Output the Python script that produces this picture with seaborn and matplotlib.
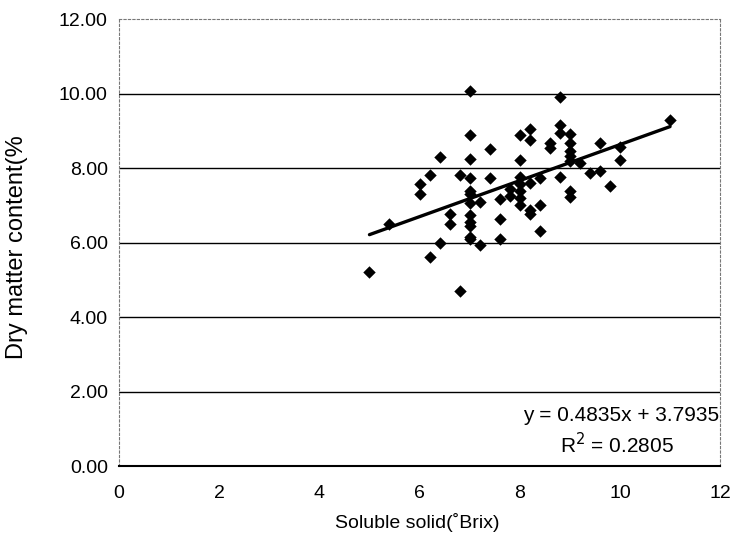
import numpy as np
import pandas as pd
import matplotlib
matplotlib.use("Agg")
import matplotlib.pyplot as plt
import seaborn as sns

# data
brix = [5.0, 5.4, 6.0, 6.0, 6.2, 6.2, 6.4, 6.4, 6.6, 6.6, 6.8, 6.8,
        7.0, 7.0, 7.0, 7.0, 7.0, 7.0, 7.0, 7.0, 7.0, 7.0, 7.0, 7.0,
        7.2, 7.2, 7.4, 7.4, 7.6, 7.6, 7.6, 7.8, 7.8,
        8.0, 8.0, 8.0, 8.0, 8.0, 8.0, 8.0,
        8.2, 8.2, 8.2, 8.2, 8.2, 8.4, 8.4, 8.4, 8.6, 8.6,
        8.8, 8.8, 8.8, 8.8,
        9.0, 9.0, 9.0, 9.0, 9.0, 9.0, 9.0,
        9.2, 9.4, 9.6, 9.6, 9.8, 10.0, 10.0, 11.0]
dry_matter = [5.20, 6.49, 7.56, 7.31, 7.81, 5.60, 8.30, 5.98, 6.76, 6.51, 7.81, 4.71,
              10.07, 8.88, 8.25, 7.72, 7.39, 7.29, 7.06, 6.73, 6.54, 6.45, 6.16, 6.09,
              5.93, 7.08, 8.50, 7.72, 7.18, 6.64, 6.10, 7.44, 7.25,
              8.89, 8.22, 7.76, 7.58, 7.39, 7.20, 7.01,
              9.04, 8.75, 7.60, 6.87, 6.76, 7.74, 7.01, 6.31, 8.66, 8.54,
              9.90, 9.15, 8.94, 7.76,
              8.91, 8.66, 8.47, 8.33, 8.19, 7.37, 7.22,
              8.14, 7.86, 8.66, 7.93, 7.51, 8.56, 8.22, 9.29]

# trend line as printed on the chart
slope = 0.4835
intercept = 3.7935
r_squared = 0.2805

df = pd.DataFrame({"brix": brix, "dm": dry_matter})

sns.set_theme(style="white")
plt.rcParams['font.family'] = ['Liberation Sans', 'DejaVu Sans']
plt.rcParams['text.color'] = 'black'
plt.rcParams['axes.labelcolor'] = 'black'
plt.rcParams['xtick.color'] = 'black'
plt.rcParams['ytick.color'] = 'black'

fig = plt.figure(figsize=(7.34, 5.48), dpi=100)
ax = fig.add_axes([0.1621, 0.1496, 0.819, 0.8157])

# horizontal gridlines
for yv in [2, 4, 6, 8, 10]:
    ax.axhline(yv, color='black', lw=1.0, zorder=1)

sns.scatterplot(data=df, x="brix", y="dm", marker="D", s=40, color="black",
                edgecolor="black", linewidth=0, ax=ax, zorder=3)

xs = np.array([df["brix"].min(), df["brix"].max()])
ax.plot(xs, slope * xs + intercept, color="black", lw=2.4, zorder=4)

ax.set_xlim(0, 12)
ax.set_ylim(0, 12)
ax.set_xticks(range(0, 13, 2))
ax.set_yticks(range(0, 13, 2))
ax.set_yticklabels([f"{v:.2f}" for v in range(0, 13, 2)])

ax.tick_params(axis='x', direction='in', length=4, width=0.8, color='#888888',
               labelcolor='black', labelsize=14, pad=14)
ax.tick_params(axis='y', length=0, labelsize=14, pad=8, labelcolor='black')

for side in ['left', 'top', 'right']:
    ax.spines[side].set_linestyle((0, (2, 2)))
    ax.spines[side].set_color('#777777')
    ax.spines[side].set_linewidth(0.8)
ax.spines['bottom'].set_color('black')
ax.spines['bottom'].set_linewidth(1.5)

ax.set_xlabel("Soluble solid(˚Brix)", fontsize=14)
ax.set_ylabel("Dry matter content(%", fontsize=17)
ax.xaxis.set_label_coords((417 - 119) / 601, (466 - 513) / 447)
ax.yaxis.set_label_coords((28 - 119) / 601, (466 - 247) / 447)

ax.text(0.999, 0.112, f"y = {slope}x + {intercept}", transform=ax.transAxes,
        ha='right', va='center', fontsize=15)
ax.text(0.829, 0.048, f"R$^2$ = {r_squared}", transform=ax.transAxes,
        ha='center', va='center', fontsize=15)

fig.savefig("out.png", dpi=100, facecolor="white")
